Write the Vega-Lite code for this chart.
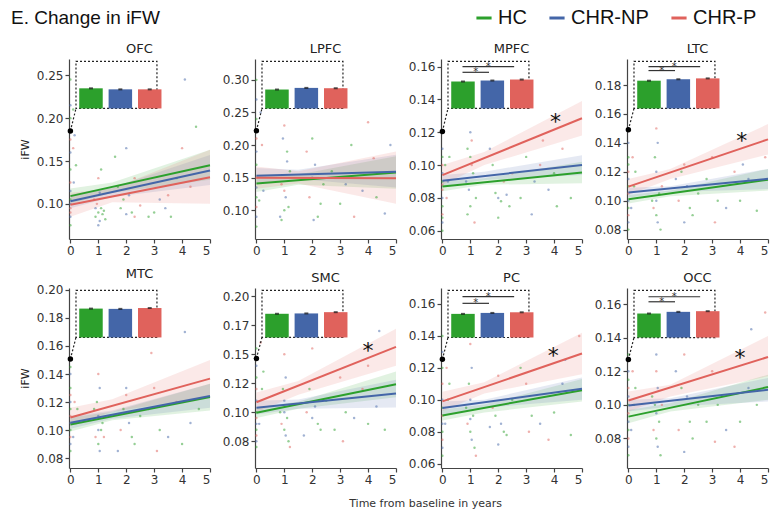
{
"$schema":"https://vega.github.io/schema/vega-lite/v6.json",
"padding":{"left":11,"top":8,"right":5,"bottom":2},
"title":{"text":"E. Change in iFW","anchor":"start","frame":"group","dx":-58,"font":"Liberation Sans","fontSize":19,"fontWeight":"normal","color":"#111","offset":-20},
"datasets":{
"fit":[
{"r":"OFC","g":"HC","t":0,"v":0.109},{"r":"OFC","g":"HC","t":5,"v":0.145},{"r":"OFC","g":"CHR-NP","t":0,"v":0.103},{"r":"OFC","g":"CHR-NP","t":5,"v":0.139},{"r":"OFC","g":"CHR-P","t":0,"v":0.099},{"r":"OFC","g":"CHR-P","t":5,"v":0.131},
{"r":"LPFC","g":"HC","t":0,"v":0.141},{"r":"LPFC","g":"HC","t":5,"v":0.158},{"r":"LPFC","g":"CHR-NP","t":0,"v":0.153},{"r":"LPFC","g":"CHR-NP","t":5,"v":0.159},{"r":"LPFC","g":"CHR-P","t":0,"v":0.150},{"r":"LPFC","g":"CHR-P","t":5,"v":0.149},
{"r":"MPFC","g":"HC","t":0,"v":0.087},{"r":"MPFC","g":"HC","t":5,"v":0.0955},{"r":"MPFC","g":"CHR-NP","t":0,"v":0.0905},{"r":"MPFC","g":"CHR-NP","t":5,"v":0.100},{"r":"MPFC","g":"CHR-P","t":0,"v":0.0939},{"r":"MPFC","g":"CHR-P","t":5,"v":0.1285},
{"r":"LTC","g":"HC","t":0,"v":0.101},{"r":"LTC","g":"HC","t":5,"v":0.1145},{"r":"LTC","g":"CHR-NP","t":0,"v":0.1057},{"r":"LTC","g":"CHR-NP","t":5,"v":0.1151},{"r":"LTC","g":"CHR-P","t":0,"v":0.1097},{"r":"LTC","g":"CHR-P","t":5,"v":0.1424},
{"r":"MTC","g":"HC","t":0,"v":0.104},{"r":"MTC","g":"HC","t":5,"v":0.1236},{"r":"MTC","g":"CHR-NP","t":0,"v":0.1052},{"r":"MTC","g":"CHR-NP","t":5,"v":0.1243},{"r":"MTC","g":"CHR-P","t":0,"v":0.109},{"r":"MTC","g":"CHR-P","t":5,"v":0.1367},
{"r":"SMC","g":"HC","t":0,"v":0.0995},{"r":"SMC","g":"HC","t":5,"v":0.1241},{"r":"SMC","g":"CHR-NP","t":0,"v":0.1038},{"r":"SMC","g":"CHR-NP","t":5,"v":0.1161},{"r":"SMC","g":"CHR-P","t":0,"v":0.1086},{"r":"SMC","g":"CHR-P","t":5,"v":0.1563},
{"r":"PC","g":"HC","t":0,"v":0.0902},{"r":"PC","g":"HC","t":5,"v":0.106},{"r":"PC","g":"CHR-NP","t":0,"v":0.0948},{"r":"PC","g":"CHR-NP","t":5,"v":0.1069},{"r":"PC","g":"CHR-P","t":0,"v":0.099},{"r":"PC","g":"CHR-P","t":5,"v":0.129},
{"r":"OCC","g":"HC","t":0,"v":0.093},{"r":"OCC","g":"HC","t":5,"v":0.1106},{"r":"OCC","g":"CHR-NP","t":0,"v":0.0996},{"r":"OCC","g":"CHR-NP","t":5,"v":0.109},{"r":"OCC","g":"CHR-P","t":0,"v":0.1026},{"r":"OCC","g":"CHR-P","t":5,"v":0.1285}
],
"band":[
{"r":"OFC","g":"HC","t":0,"lo":0.100,"hi":0.118},{"r":"OFC","g":"HC","t":1.5,"lo":0.113,"hi":0.125},{"r":"OFC","g":"HC","t":5,"lo":0.128,"hi":0.163},
{"r":"OFC","g":"CHR-NP","t":0,"lo":0.095,"hi":0.111},{"r":"OFC","g":"CHR-NP","t":1.5,"lo":0.108,"hi":0.119},{"r":"OFC","g":"CHR-NP","t":5,"lo":0.122,"hi":0.157},
{"r":"OFC","g":"CHR-P","t":0,"lo":0.085,"hi":0.113},{"r":"OFC","g":"CHR-P","t":1.5,"lo":0.102,"hi":0.118},{"r":"OFC","g":"CHR-P","t":5,"lo":0.100,"hi":0.163},
{"r":"LPFC","g":"HC","t":0,"lo":0.128,"hi":0.155},{"r":"LPFC","g":"HC","t":1.5,"lo":0.139,"hi":0.155},{"r":"LPFC","g":"HC","t":5,"lo":0.133,"hi":0.183},
{"r":"LPFC","g":"CHR-NP","t":0,"lo":0.142,"hi":0.165},{"r":"LPFC","g":"CHR-NP","t":1.5,"lo":0.148,"hi":0.162},{"r":"LPFC","g":"CHR-NP","t":5,"lo":0.135,"hi":0.185},
{"r":"LPFC","g":"CHR-P","t":0,"lo":0.133,"hi":0.167},{"r":"LPFC","g":"CHR-P","t":1.5,"lo":0.141,"hi":0.160},{"r":"LPFC","g":"CHR-P","t":5,"lo":0.110,"hi":0.190},
{"r":"MPFC","g":"HC","t":0,"lo":0.084,"hi":0.090},{"r":"MPFC","g":"HC","t":1.5,"lo":0.088,"hi":0.092},{"r":"MPFC","g":"HC","t":5,"lo":0.089,"hi":0.102},
{"r":"MPFC","g":"CHR-NP","t":0,"lo":0.087,"hi":0.094},{"r":"MPFC","g":"CHR-NP","t":1.5,"lo":0.091,"hi":0.096},{"r":"MPFC","g":"CHR-NP","t":5,"lo":0.094,"hi":0.106},
{"r":"MPFC","g":"CHR-P","t":0,"lo":0.088,"hi":0.100},{"r":"MPFC","g":"CHR-P","t":1.5,"lo":0.100,"hi":0.108},{"r":"MPFC","g":"CHR-P","t":5,"lo":0.118,"hi":0.139},
{"r":"LTC","g":"HC","t":0,"lo":0.098,"hi":0.104},{"r":"LTC","g":"HC","t":1.5,"lo":0.103,"hi":0.107},{"r":"LTC","g":"HC","t":5,"lo":0.107,"hi":0.122},
{"r":"LTC","g":"CHR-NP","t":0,"lo":0.102,"hi":0.109},{"r":"LTC","g":"CHR-NP","t":1.5,"lo":0.106,"hi":0.110},{"r":"LTC","g":"CHR-NP","t":5,"lo":0.108,"hi":0.122},
{"r":"LTC","g":"CHR-P","t":0,"lo":0.104,"hi":0.115},{"r":"LTC","g":"CHR-P","t":1.5,"lo":0.115,"hi":0.122},{"r":"LTC","g":"CHR-P","t":5,"lo":0.132,"hi":0.153},
{"r":"MTC","g":"HC","t":0,"lo":0.099,"hi":0.109},{"r":"MTC","g":"HC","t":1.5,"lo":0.107,"hi":0.113},{"r":"MTC","g":"HC","t":5,"lo":0.114,"hi":0.133},
{"r":"MTC","g":"CHR-NP","t":0,"lo":0.101,"hi":0.110},{"r":"MTC","g":"CHR-NP","t":1.5,"lo":0.108,"hi":0.114},{"r":"MTC","g":"CHR-NP","t":5,"lo":0.116,"hi":0.133},
{"r":"MTC","g":"CHR-P","t":0,"lo":0.103,"hi":0.116},{"r":"MTC","g":"CHR-P","t":1.5,"lo":0.113,"hi":0.122},{"r":"MTC","g":"CHR-P","t":5,"lo":0.124,"hi":0.150},
{"r":"SMC","g":"HC","t":0,"lo":0.095,"hi":0.104},{"r":"SMC","g":"HC","t":1.5,"lo":0.103,"hi":0.109},{"r":"SMC","g":"HC","t":5,"lo":0.113,"hi":0.135},
{"r":"SMC","g":"CHR-NP","t":0,"lo":0.098,"hi":0.110},{"r":"SMC","g":"CHR-NP","t":1.5,"lo":0.103,"hi":0.111},{"r":"SMC","g":"CHR-NP","t":5,"lo":0.104,"hi":0.128},
{"r":"SMC","g":"CHR-P","t":0,"lo":0.100,"hi":0.117},{"r":"SMC","g":"CHR-P","t":1.5,"lo":0.115,"hi":0.127},{"r":"SMC","g":"CHR-P","t":5,"lo":0.140,"hi":0.172},
{"r":"PC","g":"HC","t":0,"lo":0.087,"hi":0.094},{"r":"PC","g":"HC","t":1.5,"lo":0.092,"hi":0.097},{"r":"PC","g":"HC","t":5,"lo":0.099,"hi":0.113},
{"r":"PC","g":"CHR-NP","t":0,"lo":0.090,"hi":0.099},{"r":"PC","g":"CHR-NP","t":1.5,"lo":0.095,"hi":0.100},{"r":"PC","g":"CHR-NP","t":5,"lo":0.100,"hi":0.114},
{"r":"PC","g":"CHR-P","t":0,"lo":0.093,"hi":0.105},{"r":"PC","g":"CHR-P","t":1.5,"lo":0.104,"hi":0.111},{"r":"PC","g":"CHR-P","t":5,"lo":0.116,"hi":0.142},
{"r":"OCC","g":"HC","t":0,"lo":0.089,"hi":0.097},{"r":"OCC","g":"HC","t":1.5,"lo":0.096,"hi":0.101},{"r":"OCC","g":"HC","t":5,"lo":0.103,"hi":0.118},
{"r":"OCC","g":"CHR-NP","t":0,"lo":0.096,"hi":0.103},{"r":"OCC","g":"CHR-NP","t":1.5,"lo":0.099,"hi":0.104},{"r":"OCC","g":"CHR-NP","t":5,"lo":0.102,"hi":0.116},
{"r":"OCC","g":"CHR-P","t":0,"lo":0.096,"hi":0.108},{"r":"OCC","g":"CHR-P","t":1.5,"lo":0.105,"hi":0.112},{"r":"OCC","g":"CHR-P","t":5,"lo":0.117,"hi":0.141}
],
"bars":[
{"r":"OFC","g":"HC","v":0.2348},{"r":"OFC","g":"CHR-NP","v":0.2336},{"r":"OFC","g":"CHR-P","v":0.2336},
{"r":"LPFC","g":"HC","v":0.2852},{"r":"LPFC","g":"CHR-NP","v":0.2877},{"r":"LPFC","g":"CHR-P","v":0.2872},
{"r":"MPFC","g":"HC","v":0.1509},{"r":"MPFC","g":"CHR-NP","v":0.1515},{"r":"MPFC","g":"CHR-P","v":0.1521},
{"r":"LTC","g":"HC","v":0.183},{"r":"LTC","g":"CHR-NP","v":0.184},{"r":"LTC","g":"CHR-P","v":0.1846},
{"r":"MTC","g":"HC","v":0.1867},{"r":"MTC","g":"CHR-NP","v":0.1865},{"r":"MTC","g":"CHR-P","v":0.1871},
{"r":"SMC","g":"HC","v":0.1848},{"r":"SMC","g":"CHR-NP","v":0.1851},{"r":"SMC","g":"CHR-P","v":0.1862},
{"r":"PC","g":"HC","v":0.1538},{"r":"PC","g":"CHR-NP","v":0.1544},{"r":"PC","g":"CHR-P","v":0.1548},
{"r":"OCC","g":"HC","v":0.1544},{"r":"OCC","g":"CHR-NP","v":0.1554},{"r":"OCC","g":"CHR-P","v":0.1558}
],
"pts":[
{"r":"OFC","g":"HC","t":0,"v":0.075},{"r":"OFC","g":"CHR-NP","t":0,"v":0.085},{"r":"OFC","g":"CHR-P","t":0,"v":0.095},{"r":"OFC","g":"HC","t":0,"v":0.105},{"r":"OFC","g":"CHR-NP","t":0,"v":0.115},{"r":"OFC","g":"CHR-P","t":0,"v":0.125},{"r":"OFC","g":"HC","t":0,"v":0.14},{"r":"OFC","g":"CHR-NP","t":0,"v":0.16},{"r":"OFC","g":"CHR-P","t":0,"v":0.175},{"r":"OFC","g":"HC","t":0,"v":0.2},{"r":"OFC","g":"CHR-NP","t":0,"v":0.215},{"r":"OFC","g":"HC","t":0,"v":0.245},{"r":"OFC","g":"CHR-P","t":0,"v":0.09},{"r":"OFC","g":"CHR-NP","t":0,"v":0.1},
{"r":"OFC","g":"HC","t":0.1,"v":0.21},{"r":"OFC","g":"CHR-NP","t":0.15,"v":0.18},{"r":"OFC","g":"CHR-P","t":0.1,"v":0.165},{"r":"OFC","g":"HC","t":0.2,"v":0.145},{"r":"OFC","g":"CHR-NP","t":0.12,"v":0.125},
{"r":"OFC","g":"HC","t":0.9,"v":0.085},{"r":"OFC","g":"HC","t":1.0,"v":0.09},{"r":"OFC","g":"CHR-NP","t":1.05,"v":0.08},{"r":"OFC","g":"HC","t":1.1,"v":0.095},{"r":"OFC","g":"CHR-P","t":0.95,"v":0.1},{"r":"OFC","g":"HC","t":1.15,"v":0.088},{"r":"OFC","g":"CHR-NP","t":1.0,"v":0.075},{"r":"OFC","g":"HC","t":1.2,"v":0.092},{"r":"OFC","g":"CHR-P","t":0.85,"v":0.105},{"r":"OFC","g":"CHR-NP","t":1.05,"v":0.113},{"r":"OFC","g":"HC","t":1.1,"v":0.14},{"r":"OFC","g":"CHR-P","t":1.0,"v":0.13},{"r":"OFC","g":"HC","t":1.25,"v":0.082},{"r":"OFC","g":"CHR-NP","t":0.9,"v":0.095},
{"r":"OFC","g":"HC","t":1.8,"v":0.095},{"r":"OFC","g":"CHR-NP","t":2.0,"v":0.088},{"r":"OFC","g":"HC","t":2.2,"v":0.09},{"r":"OFC","g":"CHR-P","t":2.3,"v":0.085},{"r":"OFC","g":"HC","t":1.9,"v":0.105},{"r":"OFC","g":"CHR-NP","t":2.1,"v":0.11},{"r":"OFC","g":"CHR-P","t":2.5,"v":0.098},{"r":"OFC","g":"HC","t":1.7,"v":0.12},{"r":"OFC","g":"CHR-NP","t":2.0,"v":0.165},{"r":"OFC","g":"HC","t":1.6,"v":0.155},{"r":"OFC","g":"CHR-P","t":2.3,"v":0.13},
{"r":"OFC","g":"HC","t":3.0,"v":0.09},{"r":"OFC","g":"CHR-NP","t":3.2,"v":0.105},{"r":"OFC","g":"CHR-P","t":3.5,"v":0.11},{"r":"OFC","g":"HC","t":2.8,"v":0.085},{"r":"OFC","g":"CHR-NP","t":3.4,"v":0.095},{"r":"OFC","g":"HC","t":3.8,"v":0.13},{"r":"OFC","g":"CHR-P","t":4.0,"v":0.165},{"r":"OFC","g":"CHR-NP","t":4.1,"v":0.245},{"r":"OFC","g":"HC","t":4.5,"v":0.19},{"r":"OFC","g":"CHR-P","t":4.3,"v":0.12},{"r":"OFC","g":"HC","t":3.6,"v":0.085},
{"r":"LPFC","g":"HC","t":0,"v":0.075},{"r":"LPFC","g":"CHR-NP","t":0,"v":0.09},{"r":"LPFC","g":"CHR-P","t":0,"v":0.105},{"r":"LPFC","g":"HC","t":0,"v":0.12},{"r":"LPFC","g":"CHR-NP","t":0,"v":0.135},{"r":"LPFC","g":"CHR-P","t":0,"v":0.15},{"r":"LPFC","g":"HC","t":0,"v":0.17},{"r":"LPFC","g":"CHR-NP","t":0,"v":0.19},{"r":"LPFC","g":"CHR-P","t":0,"v":0.21},{"r":"LPFC","g":"HC","t":0,"v":0.24},{"r":"LPFC","g":"CHR-NP","t":0,"v":0.27},{"r":"LPFC","g":"HC","t":0,"v":0.3},
{"r":"LPFC","g":"CHR-NP","t":0.15,"v":0.25},{"r":"LPFC","g":"CHR-P","t":0.2,"v":0.2},{"r":"LPFC","g":"HC","t":0.1,"v":0.115},{"r":"LPFC","g":"CHR-NP","t":0.25,"v":0.13},
{"r":"LPFC","g":"HC","t":1.0,"v":0.1},{"r":"LPFC","g":"CHR-NP","t":1.05,"v":0.12},{"r":"LPFC","g":"CHR-P","t":0.9,"v":0.14},{"r":"LPFC","g":"HC","t":1.1,"v":0.19},{"r":"LPFC","g":"CHR-NP","t":0.95,"v":0.21},{"r":"LPFC","g":"CHR-P","t":1.0,"v":0.23},{"r":"LPFC","g":"HC","t":1.2,"v":0.16},{"r":"LPFC","g":"CHR-NP","t":0.85,"v":0.09},{"r":"LPFC","g":"HC","t":1.15,"v":0.105},{"r":"LPFC","g":"CHR-P","t":1.0,"v":0.13},{"r":"LPFC","g":"CHR-NP","t":1.1,"v":0.175},{"r":"LPFC","g":"HC","t":0.9,"v":0.085},
{"r":"LPFC","g":"HC","t":2.0,"v":0.21},{"r":"LPFC","g":"CHR-NP","t":2.1,"v":0.17},{"r":"LPFC","g":"CHR-P","t":1.9,"v":0.12},{"r":"LPFC","g":"HC","t":2.2,"v":0.09},{"r":"LPFC","g":"CHR-NP","t":2.0,"v":0.15},{"r":"LPFC","g":"HC","t":2.3,"v":0.11},{"r":"LPFC","g":"CHR-P","t":1.8,"v":0.19},{"r":"LPFC","g":"HC","t":2.4,"v":0.14},{"r":"LPFC","g":"CHR-NP","t":2.05,"v":0.085},
{"r":"LPFC","g":"HC","t":3.0,"v":0.11},{"r":"LPFC","g":"CHR-NP","t":3.2,"v":0.14},{"r":"LPFC","g":"CHR-P","t":3.5,"v":0.09},{"r":"LPFC","g":"HC","t":2.7,"v":0.16},{"r":"LPFC","g":"CHR-NP","t":3.8,"v":0.13},{"r":"LPFC","g":"CHR-P","t":4.0,"v":0.235},{"r":"LPFC","g":"HC","t":4.3,"v":0.12},{"r":"LPFC","g":"CHR-NP","t":4.6,"v":0.095},{"r":"LPFC","g":"CHR-P","t":4.2,"v":0.18},{"r":"LPFC","g":"HC","t":3.4,"v":0.2},{"r":"LPFC","g":"CHR-NP","t":4.8,"v":0.2},
{"r":"MPFC","g":"HC","t":0,"v":0.06},{"r":"MPFC","g":"CHR-NP","t":0,"v":0.065},{"r":"MPFC","g":"CHR-P","t":0,"v":0.07},{"r":"MPFC","g":"HC","t":0,"v":0.075},{"r":"MPFC","g":"CHR-NP","t":0,"v":0.08},{"r":"MPFC","g":"CHR-P","t":0,"v":0.085},{"r":"MPFC","g":"HC","t":0,"v":0.09},{"r":"MPFC","g":"CHR-NP","t":0,"v":0.095},{"r":"MPFC","g":"CHR-P","t":0,"v":0.1},{"r":"MPFC","g":"HC","t":0,"v":0.105},{"r":"MPFC","g":"CHR-NP","t":0,"v":0.11},{"r":"MPFC","g":"HC","t":0,"v":0.068},{"r":"MPFC","g":"CHR-P","t":0,"v":0.088},
{"r":"MPFC","g":"HC","t":0.1,"v":0.1},{"r":"MPFC","g":"CHR-NP","t":0.2,"v":0.09},{"r":"MPFC","g":"CHR-P","t":0.15,"v":0.08},{"r":"MPFC","g":"HC","t":0.25,"v":0.105},
{"r":"MPFC","g":"HC","t":0.9,"v":0.11},{"r":"MPFC","g":"CHR-NP","t":1.0,"v":0.12},{"r":"MPFC","g":"CHR-P","t":1.05,"v":0.1},{"r":"MPFC","g":"HC","t":1.1,"v":0.095},{"r":"MPFC","g":"CHR-NP","t":0.95,"v":0.085},{"r":"MPFC","g":"HC","t":1.0,"v":0.075},{"r":"MPFC","g":"CHR-P","t":1.15,"v":0.065},{"r":"MPFC","g":"HC","t":1.0,"v":0.105},{"r":"MPFC","g":"CHR-NP","t":0.85,"v":0.09},{"r":"MPFC","g":"HC","t":1.2,"v":0.08},{"r":"MPFC","g":"CHR-P","t":1.05,"v":0.115},{"r":"MPFC","g":"HC","t":0.9,"v":0.07},
{"r":"MPFC","g":"HC","t":1.9,"v":0.083},{"r":"MPFC","g":"CHR-NP","t":2.0,"v":0.08},{"r":"MPFC","g":"HC","t":2.1,"v":0.078},{"r":"MPFC","g":"CHR-P","t":2.2,"v":0.09},{"r":"MPFC","g":"HC","t":1.8,"v":0.1},{"r":"MPFC","g":"CHR-NP","t":2.3,"v":0.082},{"r":"MPFC","g":"HC","t":2.0,"v":0.068},{"r":"MPFC","g":"CHR-P","t":2.5,"v":0.095},{"r":"MPFC","g":"CHR-NP","t":1.7,"v":0.11},{"r":"MPFC","g":"HC","t":2.4,"v":0.075},
{"r":"MPFC","g":"HC","t":3.0,"v":0.105},{"r":"MPFC","g":"CHR-NP","t":3.3,"v":0.09},{"r":"MPFC","g":"CHR-P","t":3.5,"v":0.1},{"r":"MPFC","g":"HC","t":2.8,"v":0.08},{"r":"MPFC","g":"CHR-NP","t":3.8,"v":0.085},{"r":"MPFC","g":"HC","t":4.0,"v":0.095},{"r":"MPFC","g":"CHR-P","t":4.3,"v":0.11},{"r":"MPFC","g":"HC","t":4.6,"v":0.08},{"r":"MPFC","g":"CHR-NP","t":3.2,"v":0.07},{"r":"MPFC","g":"HC","t":4.1,"v":0.075},{"r":"MPFC","g":"CHR-P","t":3.6,"v":0.115},
{"r":"LTC","g":"HC","t":0,"v":0.08},{"r":"LTC","g":"CHR-NP","t":0,"v":0.085},{"r":"LTC","g":"CHR-P","t":0,"v":0.09},{"r":"LTC","g":"HC","t":0,"v":0.095},{"r":"LTC","g":"CHR-NP","t":0,"v":0.1},{"r":"LTC","g":"CHR-P","t":0,"v":0.105},{"r":"LTC","g":"HC","t":0,"v":0.11},{"r":"LTC","g":"CHR-NP","t":0,"v":0.115},{"r":"LTC","g":"CHR-P","t":0,"v":0.12},{"r":"LTC","g":"HC","t":0,"v":0.13},{"r":"LTC","g":"CHR-NP","t":0,"v":0.14},{"r":"LTC","g":"HC","t":0,"v":0.125},
{"r":"LTC","g":"CHR-P","t":0.15,"v":0.13},{"r":"LTC","g":"HC","t":0.2,"v":0.11},{"r":"LTC","g":"CHR-NP","t":0.1,"v":0.095},{"r":"LTC","g":"HC","t":0.25,"v":0.12},
{"r":"LTC","g":"CHR-P","t":1.0,"v":0.15},{"r":"LTC","g":"CHR-NP","t":1.05,"v":0.14},{"r":"LTC","g":"HC","t":0.95,"v":0.13},{"r":"LTC","g":"CHR-NP","t":1.0,"v":0.12},{"r":"LTC","g":"HC","t":1.1,"v":0.105},{"r":"LTC","g":"CHR-P","t":0.9,"v":0.095},{"r":"LTC","g":"HC","t":1.0,"v":0.09},{"r":"LTC","g":"CHR-NP","t":1.05,"v":0.085},{"r":"LTC","g":"HC","t":1.15,"v":0.08},{"r":"LTC","g":"HC","t":0.85,"v":0.1},{"r":"LTC","g":"CHR-P","t":1.2,"v":0.11},{"r":"LTC","g":"CHR-NP","t":1.0,"v":0.1},
{"r":"LTC","g":"CHR-P","t":2.0,"v":0.125},{"r":"LTC","g":"HC","t":1.9,"v":0.12},{"r":"LTC","g":"CHR-NP","t":2.1,"v":0.11},{"r":"LTC","g":"HC","t":2.2,"v":0.095},{"r":"LTC","g":"CHR-P","t":1.8,"v":0.1},{"r":"LTC","g":"HC","t":2.3,"v":0.09},{"r":"LTC","g":"CHR-NP","t":2.0,"v":0.085},{"r":"LTC","g":"HC","t":2.5,"v":0.105},{"r":"LTC","g":"CHR-NP","t":1.7,"v":0.115},
{"r":"LTC","g":"CHR-P","t":3.0,"v":0.13},{"r":"LTC","g":"HC","t":3.2,"v":0.1},{"r":"LTC","g":"CHR-NP","t":3.5,"v":0.095},{"r":"LTC","g":"HC","t":2.8,"v":0.115},{"r":"LTC","g":"CHR-P","t":3.8,"v":0.12},{"r":"LTC","g":"HC","t":4.0,"v":0.1},{"r":"LTC","g":"CHR-NP","t":4.3,"v":0.115},{"r":"LTC","g":"HC","t":4.6,"v":0.093},{"r":"LTC","g":"CHR-P","t":3.1,"v":0.085},{"r":"LTC","g":"CHR-NP","t":4.1,"v":0.125},{"r":"LTC","g":"CHR-P","t":4.9,"v":0.13},
{"r":"MTC","g":"HC","t":0,"v":0.085},{"r":"MTC","g":"CHR-NP","t":0,"v":0.09},{"r":"MTC","g":"CHR-P","t":0,"v":0.095},{"r":"MTC","g":"HC","t":0,"v":0.1},{"r":"MTC","g":"CHR-NP","t":0,"v":0.105},{"r":"MTC","g":"CHR-P","t":0,"v":0.11},{"r":"MTC","g":"HC","t":0,"v":0.115},{"r":"MTC","g":"CHR-NP","t":0,"v":0.12},{"r":"MTC","g":"CHR-P","t":0,"v":0.125},{"r":"MTC","g":"HC","t":0,"v":0.13},{"r":"MTC","g":"CHR-NP","t":0,"v":0.14},{"r":"MTC","g":"HC","t":0,"v":0.145},
{"r":"MTC","g":"CHR-P","t":0.15,"v":0.12},{"r":"MTC","g":"HC","t":0.2,"v":0.105},{"r":"MTC","g":"CHR-NP","t":0.1,"v":0.095},{"r":"MTC","g":"HC","t":0.25,"v":0.115},
{"r":"MTC","g":"CHR-P","t":1.0,"v":0.14},{"r":"MTC","g":"CHR-NP","t":1.05,"v":0.13},{"r":"MTC","g":"HC","t":0.95,"v":0.12},{"r":"MTC","g":"CHR-NP","t":1.0,"v":0.11},{"r":"MTC","g":"HC","t":1.1,"v":0.1},{"r":"MTC","g":"CHR-P","t":0.9,"v":0.095},{"r":"MTC","g":"HC","t":1.0,"v":0.09},{"r":"MTC","g":"CHR-NP","t":1.05,"v":0.085},{"r":"MTC","g":"HC","t":1.15,"v":0.105},{"r":"MTC","g":"HC","t":0.85,"v":0.115},{"r":"MTC","g":"CHR-P","t":1.2,"v":0.095},{"r":"MTC","g":"CHR-NP","t":1.0,"v":0.1},
{"r":"MTC","g":"CHR-P","t":2.0,"v":0.125},{"r":"MTC","g":"HC","t":1.9,"v":0.115},{"r":"MTC","g":"CHR-NP","t":2.1,"v":0.105},{"r":"MTC","g":"HC","t":2.2,"v":0.095},{"r":"MTC","g":"CHR-P","t":1.8,"v":0.1},{"r":"MTC","g":"HC","t":2.3,"v":0.09},{"r":"MTC","g":"CHR-NP","t":2.0,"v":0.13},{"r":"MTC","g":"HC","t":2.5,"v":0.11},{"r":"MTC","g":"CHR-NP","t":1.7,"v":0.085},
{"r":"MTC","g":"CHR-P","t":3.0,"v":0.13},{"r":"MTC","g":"HC","t":3.2,"v":0.1},{"r":"MTC","g":"CHR-NP","t":3.5,"v":0.095},{"r":"MTC","g":"HC","t":2.8,"v":0.115},{"r":"MTC","g":"CHR-P","t":3.8,"v":0.12},{"r":"MTC","g":"HC","t":4.0,"v":0.09},{"r":"MTC","g":"CHR-NP","t":4.3,"v":0.105},{"r":"MTC","g":"HC","t":4.6,"v":0.115},{"r":"MTC","g":"CHR-P","t":3.1,"v":0.085},{"r":"MTC","g":"CHR-NP","t":4.1,"v":0.17},{"r":"MTC","g":"CHR-P","t":2.9,"v":0.155},
{"r":"SMC","g":"HC","t":0,"v":0.07},{"r":"SMC","g":"CHR-NP","t":0,"v":0.075},{"r":"SMC","g":"CHR-P","t":0,"v":0.08},{"r":"SMC","g":"HC","t":0,"v":0.085},{"r":"SMC","g":"CHR-NP","t":0,"v":0.09},{"r":"SMC","g":"CHR-P","t":0,"v":0.095},{"r":"SMC","g":"HC","t":0,"v":0.1},{"r":"SMC","g":"CHR-NP","t":0,"v":0.11},{"r":"SMC","g":"CHR-P","t":0,"v":0.12},{"r":"SMC","g":"HC","t":0,"v":0.13},{"r":"SMC","g":"CHR-NP","t":0,"v":0.14},{"r":"SMC","g":"HC","t":0,"v":0.155},
{"r":"SMC","g":"CHR-P","t":0.15,"v":0.16},{"r":"SMC","g":"HC","t":0.2,"v":0.12},{"r":"SMC","g":"CHR-NP","t":0.1,"v":0.09},{"r":"SMC","g":"HC","t":0.25,"v":0.135},
{"r":"SMC","g":"CHR-P","t":1.0,"v":0.15},{"r":"SMC","g":"CHR-NP","t":1.05,"v":0.13},{"r":"SMC","g":"HC","t":0.95,"v":0.12},{"r":"SMC","g":"CHR-NP","t":1.0,"v":0.11},{"r":"SMC","g":"HC","t":1.1,"v":0.095},{"r":"SMC","g":"CHR-P","t":0.9,"v":0.09},{"r":"SMC","g":"HC","t":1.0,"v":0.085},{"r":"SMC","g":"CHR-NP","t":1.05,"v":0.08},{"r":"SMC","g":"HC","t":1.15,"v":0.075},{"r":"SMC","g":"HC","t":0.85,"v":0.1},{"r":"SMC","g":"CHR-P","t":1.2,"v":0.07},{"r":"SMC","g":"CHR-NP","t":1.0,"v":0.1},
{"r":"SMC","g":"CHR-P","t":2.0,"v":0.155},{"r":"SMC","g":"HC","t":1.9,"v":0.12},{"r":"SMC","g":"CHR-NP","t":2.1,"v":0.105},{"r":"SMC","g":"HC","t":2.2,"v":0.09},{"r":"SMC","g":"CHR-P","t":1.8,"v":0.1},{"r":"SMC","g":"HC","t":2.3,"v":0.085},{"r":"SMC","g":"CHR-NP","t":2.0,"v":0.095},{"r":"SMC","g":"HC","t":2.5,"v":0.11},{"r":"SMC","g":"CHR-NP","t":1.7,"v":0.08},
{"r":"SMC","g":"CHR-P","t":3.0,"v":0.13},{"r":"SMC","g":"HC","t":3.2,"v":0.1},{"r":"SMC","g":"CHR-NP","t":3.5,"v":0.095},{"r":"SMC","g":"HC","t":2.8,"v":0.085},{"r":"SMC","g":"CHR-P","t":3.8,"v":0.12},{"r":"SMC","g":"HC","t":4.0,"v":0.09},{"r":"SMC","g":"CHR-NP","t":4.3,"v":0.105},{"r":"SMC","g":"HC","t":4.6,"v":0.085},{"r":"SMC","g":"CHR-P","t":3.1,"v":0.075},{"r":"SMC","g":"CHR-NP","t":4.4,"v":0.17},{"r":"SMC","g":"CHR-P","t":4.0,"v":0.14},
{"r":"PC","g":"HC","t":0,"v":0.065},{"r":"PC","g":"CHR-NP","t":0,"v":0.07},{"r":"PC","g":"CHR-P","t":0,"v":0.075},{"r":"PC","g":"HC","t":0,"v":0.08},{"r":"PC","g":"CHR-NP","t":0,"v":0.085},{"r":"PC","g":"CHR-P","t":0,"v":0.09},{"r":"PC","g":"HC","t":0,"v":0.095},{"r":"PC","g":"CHR-NP","t":0,"v":0.1},{"r":"PC","g":"CHR-P","t":0,"v":0.11},{"r":"PC","g":"HC","t":0,"v":0.12},{"r":"PC","g":"CHR-NP","t":0,"v":0.13},{"r":"PC","g":"HC","t":0,"v":0.14},
{"r":"PC","g":"CHR-P","t":0.15,"v":0.12},{"r":"PC","g":"HC","t":0.2,"v":0.1},{"r":"PC","g":"CHR-NP","t":0.1,"v":0.085},{"r":"PC","g":"HC","t":0.25,"v":0.11},
{"r":"PC","g":"CHR-P","t":1.0,"v":0.135},{"r":"PC","g":"CHR-NP","t":1.05,"v":0.12},{"r":"PC","g":"HC","t":0.95,"v":0.11},{"r":"PC","g":"CHR-NP","t":1.0,"v":0.1},{"r":"PC","g":"HC","t":1.1,"v":0.09},{"r":"PC","g":"CHR-P","t":0.9,"v":0.085},{"r":"PC","g":"HC","t":1.0,"v":0.08},{"r":"PC","g":"CHR-NP","t":1.05,"v":0.075},{"r":"PC","g":"HC","t":1.15,"v":0.07},{"r":"PC","g":"HC","t":0.85,"v":0.095},{"r":"PC","g":"CHR-P","t":1.2,"v":0.065},{"r":"PC","g":"CHR-NP","t":1.0,"v":0.088},
{"r":"PC","g":"CHR-P","t":2.0,"v":0.115},{"r":"PC","g":"HC","t":1.9,"v":0.09},{"r":"PC","g":"CHR-NP","t":2.1,"v":0.085},{"r":"PC","g":"HC","t":2.2,"v":0.08},{"r":"PC","g":"CHR-P","t":1.8,"v":0.095},{"r":"PC","g":"HC","t":2.3,"v":0.078},{"r":"PC","g":"CHR-NP","t":2.0,"v":0.072},{"r":"PC","g":"HC","t":2.5,"v":0.1},{"r":"PC","g":"CHR-NP","t":1.7,"v":0.083},
{"r":"PC","g":"CHR-P","t":3.0,"v":0.11},{"r":"PC","g":"HC","t":3.2,"v":0.09},{"r":"PC","g":"CHR-NP","t":3.5,"v":0.085},{"r":"PC","g":"HC","t":2.8,"v":0.12},{"r":"PC","g":"CHR-P","t":3.8,"v":0.075},{"r":"PC","g":"HC","t":4.0,"v":0.092},{"r":"PC","g":"CHR-NP","t":4.3,"v":0.11},{"r":"PC","g":"HC","t":4.6,"v":0.078},{"r":"PC","g":"CHR-P","t":3.1,"v":0.08},{"r":"PC","g":"CHR-NP","t":4.4,"v":0.125},{"r":"PC","g":"CHR-P","t":4.9,"v":0.14},
{"r":"OCC","g":"HC","t":0,"v":0.07},{"r":"OCC","g":"CHR-NP","t":0,"v":0.075},{"r":"OCC","g":"CHR-P","t":0,"v":0.08},{"r":"OCC","g":"HC","t":0,"v":0.085},{"r":"OCC","g":"CHR-NP","t":0,"v":0.09},{"r":"OCC","g":"CHR-P","t":0,"v":0.095},{"r":"OCC","g":"HC","t":0,"v":0.1},{"r":"OCC","g":"CHR-NP","t":0,"v":0.105},{"r":"OCC","g":"CHR-P","t":0,"v":0.11},{"r":"OCC","g":"HC","t":0,"v":0.115},{"r":"OCC","g":"CHR-NP","t":0,"v":0.12},{"r":"OCC","g":"HC","t":0,"v":0.13},
{"r":"OCC","g":"CHR-P","t":0.15,"v":0.12},{"r":"OCC","g":"HC","t":0.2,"v":0.1},{"r":"OCC","g":"CHR-NP","t":0.1,"v":0.085},{"r":"OCC","g":"HC","t":0.25,"v":0.11},
{"r":"OCC","g":"CHR-P","t":1.0,"v":0.12},{"r":"OCC","g":"CHR-NP","t":1.05,"v":0.11},{"r":"OCC","g":"HC","t":0.95,"v":0.1},{"r":"OCC","g":"CHR-NP","t":1.0,"v":0.095},{"r":"OCC","g":"HC","t":1.1,"v":0.09},{"r":"OCC","g":"CHR-P","t":0.9,"v":0.085},{"r":"OCC","g":"HC","t":1.0,"v":0.08},{"r":"OCC","g":"CHR-NP","t":1.05,"v":0.075},{"r":"OCC","g":"HC","t":1.15,"v":0.07},{"r":"OCC","g":"HC","t":0.85,"v":0.105},{"r":"OCC","g":"CHR-P","t":1.2,"v":0.1},{"r":"OCC","g":"CHR-NP","t":1.0,"v":0.13},
{"r":"OCC","g":"CHR-P","t":2.0,"v":0.13},{"r":"OCC","g":"HC","t":1.9,"v":0.11},{"r":"OCC","g":"CHR-NP","t":2.1,"v":0.105},{"r":"OCC","g":"HC","t":2.2,"v":0.09},{"r":"OCC","g":"CHR-P","t":1.8,"v":0.085},{"r":"OCC","g":"HC","t":2.3,"v":0.08},{"r":"OCC","g":"CHR-NP","t":2.0,"v":0.072},{"r":"OCC","g":"HC","t":2.5,"v":0.1},{"r":"OCC","g":"CHR-NP","t":1.7,"v":0.12},
{"r":"OCC","g":"CHR-P","t":3.0,"v":0.12},{"r":"OCC","g":"HC","t":3.2,"v":0.1},{"r":"OCC","g":"CHR-NP","t":3.5,"v":0.085},{"r":"OCC","g":"HC","t":2.8,"v":0.09},{"r":"OCC","g":"CHR-P","t":3.8,"v":0.075},{"r":"OCC","g":"HC","t":4.0,"v":0.09},{"r":"OCC","g":"CHR-NP","t":4.3,"v":0.11},{"r":"OCC","g":"HC","t":4.6,"v":0.1},{"r":"OCC","g":"CHR-P","t":3.1,"v":0.078},{"r":"OCC","g":"CHR-NP","t":4.4,"v":0.145},{"r":"OCC","g":"CHR-P","t":4.9,"v":0.155}
]
},
"spacing":11,
"vconcat":[
{"bounds":"flush","spacing":45,"hconcat":[
{"width":141,"height":180,"title":"OFC","resolve":{"scale":{"x":"independent"}},"layer":[
 {"layer":[
  {"data":{"name":"band"},"transform":[{"filter":"datum.r=='OFC'"}],"mark":{"type":"area","opacity":0.14},"encoding":{"x":{"field":"t","type":"quantitative","scale":{"domain":[-0.05,5],"nice":false,"zero":false},"axis":{"values":[0,1,2,3,4,5],"tickCount":12,"format":"d","labelOverlap":false,"title":null}},"y":{"field":"lo","type":"quantitative","title":"iFW","scale":{"domain":[0.059,0.269],"nice":false,"zero":false},"axis":{"values":[0.1,0.15,0.2,0.25],"tickCount":12,"format":".2f","labelOverlap":false,"title":"iFW"}},"y2":{"field":"hi"},"color":{"field":"g","type":"nominal","scale":{"domain":["CHR-P","CHR-NP","HC"],"range":["#e0625c","#4466a8","#2ca02c"]},"legend":null}}},
  {"data":{"name":"pts"},"transform":[{"filter":"datum.r=='OFC'"}],"mark":{"type":"circle","size":6,"opacity":0.5},"encoding":{"x":{"field":"t","type":"quantitative"},"y":{"field":"v","type":"quantitative","title":"iFW"},"color":{"field":"g","type":"nominal","legend":null}}},
  {"data":{"name":"fit"},"transform":[{"filter":"datum.r=='OFC'"}],"mark":{"type":"line","strokeWidth":2},"encoding":{"x":{"field":"t","type":"quantitative"},"y":{"field":"v","type":"quantitative","title":"iFW"},"stroke":{"field":"g","type":"nominal","title":null,"scale":{"domain":["HC","CHR-NP","CHR-P"],"range":["#2ca02c","#4466a8","#e0625c"]}}}},
  {"data":{"values":[{}]},"mark":{"type":"rect","fill":"white","stroke":"#222","strokeWidth":1.2,"strokeDash":[2,2]},"encoding":{"x":{"datum":0.2},"x2":{"datum":3.1},"y":{"datum":0.2113},"y2":{"datum":0.2663}}},
  {"data":{"values":[{}]},"mark":{"type":"rule","stroke":"#222","strokeWidth":1.2,"strokeDash":[2,2]},"encoding":{"x":{"datum":0},"x2":{"datum":0.2},"y":{"datum":0.185},"y2":{"datum":0.2113}}},
  {"data":{"values":[{}]},"mark":{"type":"circle","color":"#000","size":30,"opacity":1},"encoding":{"x":{"datum":0},"y":{"datum":0.185}}}
 ]},
 {"data":{"name":"bars"},"transform":[{"filter":"datum.r=='OFC'"}],"layer":[
  {"mark":{"type":"bar"},"encoding":{"x":{"field":"g","type":"nominal","scale":{"type":"band","domain":["HC","CHR-NP","CHR-P"],"paddingInner":0.2,"paddingOuter":1.34,"align":0.174},"axis":null},"y":{"field":"v","type":"quantitative","title":"iFW"},"y2":{"datum":0.2113},"color":{"field":"g","type":"nominal","legend":null}}},
  {"mark":{"type":"tick","color":"#111","thickness":2,"size":4},"encoding":{"x":{"field":"g","type":"nominal"},"y":{"field":"v","type":"quantitative","title":"iFW"}}}
 ]}
]},
{"width":141,"height":180,"title":"LPFC","resolve":{"scale":{"x":"independent"}},"layer":[
 {"layer":[
  {"data":{"name":"band"},"transform":[{"filter":"datum.r=='LPFC'"}],"mark":{"type":"area","opacity":0.14},"encoding":{"x":{"field":"t","type":"quantitative","scale":{"domain":[-0.05,5],"nice":false,"zero":false},"axis":{"values":[0,1,2,3,4,5],"tickCount":12,"format":"d","labelOverlap":false,"title":null}},"y":{"field":"lo","type":"quantitative","scale":{"domain":[0.056,0.332],"nice":false,"zero":false},"axis":{"values":[0.1,0.15,0.2,0.25,0.3],"tickCount":12,"format":".2f","labelOverlap":false,"title":null}},"y2":{"field":"hi"},"color":{"field":"g","type":"nominal","legend":null}}},
  {"data":{"name":"pts"},"transform":[{"filter":"datum.r=='LPFC'"}],"mark":{"type":"circle","size":6,"opacity":0.5},"encoding":{"x":{"field":"t","type":"quantitative"},"y":{"field":"v","type":"quantitative","title":null},"color":{"field":"g","type":"nominal","legend":null}}},
  {"data":{"name":"fit"},"transform":[{"filter":"datum.r=='LPFC'"}],"mark":{"type":"line","strokeWidth":2},"encoding":{"x":{"field":"t","type":"quantitative"},"y":{"field":"v","type":"quantitative","title":null},"stroke":{"field":"g","type":"nominal","title":null}}},
  {"data":{"values":[{}]},"mark":{"type":"rect","fill":"white","stroke":"#222","strokeWidth":1.2,"strokeDash":[2,2]},"encoding":{"x":{"datum":0.2},"x2":{"datum":3.1},"y":{"datum":0.2561},"y2":{"datum":0.3284}}},
  {"data":{"values":[{}]},"mark":{"type":"rule","stroke":"#222","strokeWidth":1.2,"strokeDash":[2,2]},"encoding":{"x":{"datum":0},"x2":{"datum":0.2},"y":{"datum":0.222},"y2":{"datum":0.2561}}},
  {"data":{"values":[{}]},"mark":{"type":"circle","color":"#000","size":30,"opacity":1},"encoding":{"x":{"datum":0},"y":{"datum":0.222}}}
 ]},
 {"data":{"name":"bars"},"transform":[{"filter":"datum.r=='LPFC'"}],"layer":[
  {"mark":{"type":"bar"},"encoding":{"x":{"field":"g","type":"nominal","scale":{"type":"band","domain":["HC","CHR-NP","CHR-P"],"paddingInner":0.2,"paddingOuter":1.34,"align":0.174},"axis":null},"y":{"field":"v","type":"quantitative","title":null},"y2":{"datum":0.2561},"color":{"field":"g","type":"nominal","legend":null}}},
  {"mark":{"type":"tick","color":"#111","thickness":2,"size":4},"encoding":{"x":{"field":"g","type":"nominal"},"y":{"field":"v","type":"quantitative","title":null}}}
 ]}
]},
{"width":141,"height":180,"title":"MPFC","resolve":{"scale":{"x":"independent"}},"layer":[
 {"layer":[
  {"data":{"name":"band"},"transform":[{"filter":"datum.r=='MPFC'"}],"mark":{"type":"area","opacity":0.14},"encoding":{"x":{"field":"t","type":"quantitative","scale":{"domain":[-0.05,5],"nice":false,"zero":false},"axis":{"values":[0,1,2,3,4,5],"tickCount":12,"format":"d","labelOverlap":false,"title":null}},"y":{"field":"lo","type":"quantitative","scale":{"domain":[0.055,0.1646],"nice":false,"zero":false},"axis":{"values":[0.06,0.08,0.1,0.12,0.14,0.16],"tickCount":12,"format":".2f","labelOverlap":false,"title":null}},"y2":{"field":"hi"},"color":{"field":"g","type":"nominal","legend":null}}},
  {"data":{"name":"pts"},"transform":[{"filter":"datum.r=='MPFC'"}],"mark":{"type":"circle","size":6,"opacity":0.5},"encoding":{"x":{"field":"t","type":"quantitative"},"y":{"field":"v","type":"quantitative","title":null},"color":{"field":"g","type":"nominal","legend":null}}},
  {"data":{"name":"fit"},"transform":[{"filter":"datum.r=='MPFC'"}],"mark":{"type":"line","strokeWidth":2},"encoding":{"x":{"field":"t","type":"quantitative"},"y":{"field":"v","type":"quantitative","title":null},"stroke":{"field":"g","type":"nominal","title":null}}},
  {"data":{"values":[{}]},"mark":{"type":"rect","fill":"white","stroke":"#222","strokeWidth":1.2,"strokeDash":[2,2]},"encoding":{"x":{"datum":0.2},"x2":{"datum":3.1},"y":{"datum":0.1345},"y2":{"datum":0.1632}}},
  {"data":{"values":[{}]},"mark":{"type":"rule","stroke":"#222","strokeWidth":1.2,"strokeDash":[2,2]},"encoding":{"x":{"datum":0},"x2":{"datum":0.2},"y":{"datum":0.1205},"y2":{"datum":0.1345}}},
  {"data":{"values":[{}]},"mark":{"type":"circle","color":"#000","size":30,"opacity":1},"encoding":{"x":{"datum":0},"y":{"datum":0.1205}}},
  {"data":{"values":[{}]},"mark":{"type":"rule","stroke":"#333","strokeWidth":1.2},"encoding":{"x":{"datum":0.72},"x2":{"datum":2.57},"y":{"datum":0.16}}},
  {"data":{"values":[{}]},"mark":{"type":"rule","stroke":"#333","strokeWidth":1.2},"encoding":{"x":{"datum":0.72},"x2":{"datum":1.67},"y":{"datum":0.1565}}},
  {"data":{"values":[{}]},"mark":{"type":"text","text":"*","fontSize":10,"font":"DejaVu Sans","baseline":"middle","color":"#333"},"encoding":{"x":{"datum":1.645},"y":{"datum":0.16}}},
  {"data":{"values":[{}]},"mark":{"type":"text","text":"*","fontSize":10,"font":"DejaVu Sans","baseline":"middle","color":"#333"},"encoding":{"x":{"datum":1.195},"y":{"datum":0.1565}}},
  {"data":{"values":[{}]},"mark":{"type":"text","text":"*","fontSize":22,"font":"DejaVu Sans","baseline":"middle","dy":5,"color":"#111"},"encoding":{"x":{"datum":4.05},"y":{"datum":0.129}}}
 ]},
 {"data":{"name":"bars"},"transform":[{"filter":"datum.r=='MPFC'"}],"layer":[
  {"mark":{"type":"bar"},"encoding":{"x":{"field":"g","type":"nominal","scale":{"type":"band","domain":["HC","CHR-NP","CHR-P"],"paddingInner":0.2,"paddingOuter":1.34,"align":0.174},"axis":null},"y":{"field":"v","type":"quantitative","title":null},"y2":{"datum":0.1345},"color":{"field":"g","type":"nominal","legend":null}}},
  {"mark":{"type":"tick","color":"#111","thickness":2,"size":4},"encoding":{"x":{"field":"g","type":"nominal"},"y":{"field":"v","type":"quantitative","title":null}}}
 ]}
]},
{"width":141,"height":180,"title":"LTC","resolve":{"scale":{"x":"independent"}},"layer":[
 {"layer":[
  {"data":{"name":"band"},"transform":[{"filter":"datum.r=='LTC'"}],"mark":{"type":"area","opacity":0.14},"encoding":{"x":{"field":"t","type":"quantitative","scale":{"domain":[-0.05,5],"nice":false,"zero":false},"axis":{"values":[0,1,2,3,4,5],"tickCount":12,"format":"d","labelOverlap":false,"title":null}},"y":{"field":"lo","type":"quantitative","scale":{"domain":[0.0735,0.198],"nice":false,"zero":false},"axis":{"values":[0.08,0.1,0.12,0.14,0.16,0.18],"tickCount":12,"format":".2f","labelOverlap":false,"title":null}},"y2":{"field":"hi"},"color":{"field":"g","type":"nominal","legend":null}}},
  {"data":{"name":"pts"},"transform":[{"filter":"datum.r=='LTC'"}],"mark":{"type":"circle","size":6,"opacity":0.5},"encoding":{"x":{"field":"t","type":"quantitative"},"y":{"field":"v","type":"quantitative","title":null},"color":{"field":"g","type":"nominal","legend":null}}},
  {"data":{"name":"fit"},"transform":[{"filter":"datum.r=='LTC'"}],"mark":{"type":"line","strokeWidth":2},"encoding":{"x":{"field":"t","type":"quantitative"},"y":{"field":"v","type":"quantitative","title":null},"stroke":{"field":"g","type":"nominal","title":null}}},
  {"data":{"values":[{}]},"mark":{"type":"rect","fill":"white","stroke":"#222","strokeWidth":1.2,"strokeDash":[2,2]},"encoding":{"x":{"datum":0.2},"x2":{"datum":3.1},"y":{"datum":0.1638},"y2":{"datum":0.1964}}},
  {"data":{"values":[{}]},"mark":{"type":"rule","stroke":"#222","strokeWidth":1.2,"strokeDash":[2,2]},"encoding":{"x":{"datum":0},"x2":{"datum":0.2},"y":{"datum":0.149},"y2":{"datum":0.1638}}},
  {"data":{"values":[{}]},"mark":{"type":"circle","color":"#000","size":30,"opacity":1},"encoding":{"x":{"datum":0},"y":{"datum":0.149}}},
  {"data":{"values":[{}]},"mark":{"type":"rule","stroke":"#333","strokeWidth":1.2},"encoding":{"x":{"datum":0.72},"x2":{"datum":2.57},"y":{"datum":0.1927}}},
  {"data":{"values":[{}]},"mark":{"type":"rule","stroke":"#333","strokeWidth":1.2},"encoding":{"x":{"datum":0.72},"x2":{"datum":1.67},"y":{"datum":0.19}}},
  {"data":{"values":[{}]},"mark":{"type":"text","text":"*","fontSize":10,"font":"DejaVu Sans","baseline":"middle","color":"#333"},"encoding":{"x":{"datum":1.645},"y":{"datum":0.1927}}},
  {"data":{"values":[{}]},"mark":{"type":"text","text":"*","fontSize":10,"font":"DejaVu Sans","baseline":"middle","color":"#333"},"encoding":{"x":{"datum":1.195},"y":{"datum":0.19}}},
  {"data":{"values":[{}]},"mark":{"type":"text","text":"*","fontSize":22,"font":"DejaVu Sans","baseline":"middle","dy":5,"color":"#111"},"encoding":{"x":{"datum":4.06},"y":{"datum":0.1444}}}
 ]},
 {"data":{"name":"bars"},"transform":[{"filter":"datum.r=='LTC'"}],"layer":[
  {"mark":{"type":"bar"},"encoding":{"x":{"field":"g","type":"nominal","scale":{"type":"band","domain":["HC","CHR-NP","CHR-P"],"paddingInner":0.2,"paddingOuter":1.34,"align":0.174},"axis":null},"y":{"field":"v","type":"quantitative","title":null},"y2":{"datum":0.1638},"color":{"field":"g","type":"nominal","legend":null}}},
  {"mark":{"type":"tick","color":"#111","thickness":2,"size":4},"encoding":{"x":{"field":"g","type":"nominal"},"y":{"field":"v","type":"quantitative","title":null}}}
 ]}
]}
]},
{"bounds":"flush","spacing":45,"title":{"text":"Time from baseline in years","orient":"bottom","anchor":"middle","frame":"bounds","dx":30,"fontSize":11,"font":"DejaVu Sans","fontWeight":"normal","color":"#333","offset":13},"hconcat":[
{"width":141,"height":180,"title":"MTC","resolve":{"scale":{"x":"independent"}},"layer":[
 {"layer":[
  {"data":{"name":"band"},"transform":[{"filter":"datum.r=='MTC'"}],"mark":{"type":"area","opacity":0.14},"encoding":{"x":{"field":"t","type":"quantitative","scale":{"domain":[-0.05,5],"nice":false,"zero":false},"axis":{"values":[0,1,2,3,4,5],"tickCount":12,"format":"d","labelOverlap":false,"title":null}},"y":{"field":"lo","type":"quantitative","title":"iFW","scale":{"domain":[0.0729,0.2014],"nice":false,"zero":false},"axis":{"values":[0.08,0.1,0.12,0.14,0.16,0.18,0.2],"tickCount":12,"format":".2f","labelOverlap":false,"title":"iFW"}},"y2":{"field":"hi"},"color":{"field":"g","type":"nominal","legend":null}}},
  {"data":{"name":"pts"},"transform":[{"filter":"datum.r=='MTC'"}],"mark":{"type":"circle","size":6,"opacity":0.5},"encoding":{"x":{"field":"t","type":"quantitative"},"y":{"field":"v","type":"quantitative","title":"iFW"},"color":{"field":"g","type":"nominal","legend":null}}},
  {"data":{"name":"fit"},"transform":[{"filter":"datum.r=='MTC'"}],"mark":{"type":"line","strokeWidth":2},"encoding":{"x":{"field":"t","type":"quantitative"},"y":{"field":"v","type":"quantitative","title":"iFW"},"stroke":{"field":"g","type":"nominal","title":null}}},
  {"data":{"values":[{}]},"mark":{"type":"rect","fill":"white","stroke":"#222","strokeWidth":1.2,"strokeDash":[2,2]},"encoding":{"x":{"datum":0.2},"x2":{"datum":3.1},"y":{"datum":0.1661},"y2":{"datum":0.1997}}},
  {"data":{"values":[{}]},"mark":{"type":"rule","stroke":"#222","strokeWidth":1.2,"strokeDash":[2,2]},"encoding":{"x":{"datum":0},"x2":{"datum":0.2},"y":{"datum":0.1507},"y2":{"datum":0.1661}}},
  {"data":{"values":[{}]},"mark":{"type":"circle","color":"#000","size":30,"opacity":1},"encoding":{"x":{"datum":0},"y":{"datum":0.1507}}}
 ]},
 {"data":{"name":"bars"},"transform":[{"filter":"datum.r=='MTC'"}],"layer":[
  {"mark":{"type":"bar"},"encoding":{"x":{"field":"g","type":"nominal","scale":{"type":"band","domain":["HC","CHR-NP","CHR-P"],"paddingInner":0.2,"paddingOuter":1.34,"align":0.174},"axis":null},"y":{"field":"v","type":"quantitative","title":"iFW"},"y2":{"datum":0.1661},"color":{"field":"g","type":"nominal","legend":null}}},
  {"mark":{"type":"tick","color":"#111","thickness":2,"size":4},"encoding":{"x":{"field":"g","type":"nominal"},"y":{"field":"v","type":"quantitative","title":"iFW"}}}
 ]}
]},
{"width":141,"height":180,"title":"SMC","resolve":{"scale":{"x":"independent"}},"layer":[
 {"layer":[
  {"data":{"name":"band"},"transform":[{"filter":"datum.r=='SMC'"}],"mark":{"type":"area","opacity":0.14},"encoding":{"x":{"field":"t","type":"quantitative","scale":{"domain":[-0.05,5],"nice":false,"zero":false},"axis":{"values":[0,1,2,3,4,5],"tickCount":12,"format":"d","labelOverlap":false,"title":null}},"y":{"field":"lo","type":"quantitative","scale":{"domain":[0.052,0.207],"nice":false,"zero":false},"axis":{"values":[0.075,0.1,0.125,0.15,0.175,0.2],"tickCount":12,"labelOverlap":false,"labelExpr":"datum.value < 0.08 ? '0.08' : (datum.value > 0.12 && datum.value < 0.13) ? '0.12' : (datum.value > 0.17 && datum.value < 0.18) ? '0.17' : format(datum.value, '.2f')","title":null}},"y2":{"field":"hi"},"color":{"field":"g","type":"nominal","legend":null}}},
  {"data":{"name":"pts"},"transform":[{"filter":"datum.r=='SMC'"}],"mark":{"type":"circle","size":6,"opacity":0.5},"encoding":{"x":{"field":"t","type":"quantitative"},"y":{"field":"v","type":"quantitative","title":null},"color":{"field":"g","type":"nominal","legend":null}}},
  {"data":{"name":"fit"},"transform":[{"filter":"datum.r=='SMC'"}],"mark":{"type":"line","strokeWidth":2},"encoding":{"x":{"field":"t","type":"quantitative"},"y":{"field":"v","type":"quantitative","title":null},"stroke":{"field":"g","type":"nominal","title":null}}},
  {"data":{"values":[{}]},"mark":{"type":"rect","fill":"white","stroke":"#222","strokeWidth":1.2,"strokeDash":[2,2]},"encoding":{"x":{"datum":0.2},"x2":{"datum":3.1},"y":{"datum":0.1644},"y2":{"datum":0.205}}},
  {"data":{"values":[{}]},"mark":{"type":"rule","stroke":"#222","strokeWidth":1.2,"strokeDash":[2,2]},"encoding":{"x":{"datum":0},"x2":{"datum":0.2},"y":{"datum":0.1463},"y2":{"datum":0.1644}}},
  {"data":{"values":[{}]},"mark":{"type":"circle","color":"#000","size":30,"opacity":1},"encoding":{"x":{"datum":0},"y":{"datum":0.1463}}},
  {"data":{"values":[{}]},"mark":{"type":"text","text":"*","fontSize":22,"font":"DejaVu Sans","baseline":"middle","dy":5,"color":"#111"},"encoding":{"x":{"datum":4.0},"y":{"datum":0.157}}}
 ]},
 {"data":{"name":"bars"},"transform":[{"filter":"datum.r=='SMC'"}],"layer":[
  {"mark":{"type":"bar"},"encoding":{"x":{"field":"g","type":"nominal","scale":{"type":"band","domain":["HC","CHR-NP","CHR-P"],"paddingInner":0.2,"paddingOuter":1.34,"align":0.174},"axis":null},"y":{"field":"v","type":"quantitative","title":null},"y2":{"datum":0.1644},"color":{"field":"g","type":"nominal","legend":null}}},
  {"mark":{"type":"tick","color":"#111","thickness":2,"size":4},"encoding":{"x":{"field":"g","type":"nominal"},"y":{"field":"v","type":"quantitative","title":null}}}
 ]}
]},
{"width":141,"height":180,"title":"PC","resolve":{"scale":{"x":"independent"}},"layer":[
 {"layer":[
  {"data":{"name":"band"},"transform":[{"filter":"datum.r=='PC'"}],"mark":{"type":"area","opacity":0.14},"encoding":{"x":{"field":"t","type":"quantitative","scale":{"domain":[-0.05,5],"nice":false,"zero":false},"axis":{"values":[0,1,2,3,4,5],"tickCount":12,"format":"d","labelOverlap":false,"title":null}},"y":{"field":"lo","type":"quantitative","scale":{"domain":[0.0573,0.17],"nice":false,"zero":false},"axis":{"values":[0.06,0.08,0.1,0.12,0.14,0.16],"tickCount":12,"format":".2f","labelOverlap":false,"title":null}},"y2":{"field":"hi"},"color":{"field":"g","type":"nominal","legend":null}}},
  {"data":{"name":"pts"},"transform":[{"filter":"datum.r=='PC'"}],"mark":{"type":"circle","size":6,"opacity":0.5},"encoding":{"x":{"field":"t","type":"quantitative"},"y":{"field":"v","type":"quantitative","title":null},"color":{"field":"g","type":"nominal","legend":null}}},
  {"data":{"name":"fit"},"transform":[{"filter":"datum.r=='PC'"}],"mark":{"type":"line","strokeWidth":2},"encoding":{"x":{"field":"t","type":"quantitative"},"y":{"field":"v","type":"quantitative","title":null},"stroke":{"field":"g","type":"nominal","title":null}}},
  {"data":{"values":[{}]},"mark":{"type":"rect","fill":"white","stroke":"#222","strokeWidth":1.2,"strokeDash":[2,2]},"encoding":{"x":{"datum":0.2},"x2":{"datum":3.1},"y":{"datum":0.139},"y2":{"datum":0.1685}}},
  {"data":{"values":[{}]},"mark":{"type":"rule","stroke":"#222","strokeWidth":1.2,"strokeDash":[2,2]},"encoding":{"x":{"datum":0},"x2":{"datum":0.2},"y":{"datum":0.1254},"y2":{"datum":0.139}}},
  {"data":{"values":[{}]},"mark":{"type":"circle","color":"#000","size":30,"opacity":1},"encoding":{"x":{"datum":0},"y":{"datum":0.1254}}},
  {"data":{"values":[{}]},"mark":{"type":"rule","stroke":"#333","strokeWidth":1.2},"encoding":{"x":{"datum":0.72},"x2":{"datum":2.57},"y":{"datum":0.1646}}},
  {"data":{"values":[{}]},"mark":{"type":"rule","stroke":"#333","strokeWidth":1.2},"encoding":{"x":{"datum":0.72},"x2":{"datum":1.67},"y":{"datum":0.1604}}},
  {"data":{"values":[{}]},"mark":{"type":"text","text":"*","fontSize":10,"font":"DejaVu Sans","baseline":"middle","color":"#333"},"encoding":{"x":{"datum":1.645},"y":{"datum":0.1646}}},
  {"data":{"values":[{}]},"mark":{"type":"text","text":"*","fontSize":10,"font":"DejaVu Sans","baseline":"middle","color":"#333"},"encoding":{"x":{"datum":1.195},"y":{"datum":0.1604}}},
  {"data":{"values":[{}]},"mark":{"type":"text","text":"*","fontSize":22,"font":"DejaVu Sans","baseline":"middle","dy":5,"color":"#111"},"encoding":{"x":{"datum":3.97},"y":{"datum":0.1304}}}
 ]},
 {"data":{"name":"bars"},"transform":[{"filter":"datum.r=='PC'"}],"layer":[
  {"mark":{"type":"bar"},"encoding":{"x":{"field":"g","type":"nominal","scale":{"type":"band","domain":["HC","CHR-NP","CHR-P"],"paddingInner":0.2,"paddingOuter":1.34,"align":0.174},"axis":null},"y":{"field":"v","type":"quantitative","title":null},"y2":{"datum":0.139},"color":{"field":"g","type":"nominal","legend":null}}},
  {"mark":{"type":"tick","color":"#111","thickness":2,"size":4},"encoding":{"x":{"field":"g","type":"nominal"},"y":{"field":"v","type":"quantitative","title":null}}}
 ]}
]},
{"width":141,"height":180,"title":"OCC","resolve":{"scale":{"x":"independent"}},"layer":[
 {"layer":[
  {"data":{"name":"band"},"transform":[{"filter":"datum.r=='OCC'"}],"mark":{"type":"area","opacity":0.14},"encoding":{"x":{"field":"t","type":"quantitative","scale":{"domain":[-0.05,5],"nice":false,"zero":false},"axis":{"values":[0,1,2,3,4,5],"tickCount":12,"format":"d","labelOverlap":false,"title":null}},"y":{"field":"lo","type":"quantitative","scale":{"domain":[0.0624,0.1696],"nice":false,"zero":false},"axis":{"values":[0.08,0.1,0.12,0.14,0.16],"tickCount":12,"format":".2f","labelOverlap":false,"title":null}},"y2":{"field":"hi"},"color":{"field":"g","type":"nominal","legend":null}}},
  {"data":{"name":"pts"},"transform":[{"filter":"datum.r=='OCC'"}],"mark":{"type":"circle","size":6,"opacity":0.5},"encoding":{"x":{"field":"t","type":"quantitative"},"y":{"field":"v","type":"quantitative","title":null},"color":{"field":"g","type":"nominal","legend":null}}},
  {"data":{"name":"fit"},"transform":[{"filter":"datum.r=='OCC'"}],"mark":{"type":"line","strokeWidth":2},"encoding":{"x":{"field":"t","type":"quantitative"},"y":{"field":"v","type":"quantitative","title":null},"stroke":{"field":"g","type":"nominal","title":null}}},
  {"data":{"values":[{}]},"mark":{"type":"rect","fill":"white","stroke":"#222","strokeWidth":1.2,"strokeDash":[2,2]},"encoding":{"x":{"datum":0.2},"x2":{"datum":3.1},"y":{"datum":0.1401},"y2":{"datum":0.1682}}},
  {"data":{"values":[{}]},"mark":{"type":"rule","stroke":"#222","strokeWidth":1.2,"strokeDash":[2,2]},"encoding":{"x":{"datum":0},"x2":{"datum":0.2},"y":{"datum":0.127},"y2":{"datum":0.1401}}},
  {"data":{"values":[{}]},"mark":{"type":"circle","color":"#000","size":30,"opacity":1},"encoding":{"x":{"datum":0},"y":{"datum":0.127}}},
  {"data":{"values":[{}]},"mark":{"type":"rule","stroke":"#333","strokeWidth":1.2},"encoding":{"x":{"datum":0.72},"x2":{"datum":2.57},"y":{"datum":0.1644}}},
  {"data":{"values":[{}]},"mark":{"type":"rule","stroke":"#333","strokeWidth":1.2},"encoding":{"x":{"datum":0.72},"x2":{"datum":1.67},"y":{"datum":0.1614}}},
  {"data":{"values":[{}]},"mark":{"type":"text","text":"*","fontSize":10,"font":"DejaVu Sans","baseline":"middle","color":"#333"},"encoding":{"x":{"datum":1.645},"y":{"datum":0.1644}}},
  {"data":{"values":[{}]},"mark":{"type":"text","text":"*","fontSize":10,"font":"DejaVu Sans","baseline":"middle","color":"#333"},"encoding":{"x":{"datum":1.195},"y":{"datum":0.1614}}},
  {"data":{"values":[{}]},"mark":{"type":"text","text":"*","fontSize":22,"font":"DejaVu Sans","baseline":"middle","dy":5,"color":"#111"},"encoding":{"x":{"datum":4.0},"y":{"datum":0.1306}}}
 ]},
 {"data":{"name":"bars"},"transform":[{"filter":"datum.r=='OCC'"}],"layer":[
  {"mark":{"type":"bar"},"encoding":{"x":{"field":"g","type":"nominal","scale":{"type":"band","domain":["HC","CHR-NP","CHR-P"],"paddingInner":0.2,"paddingOuter":1.34,"align":0.174},"axis":null},"y":{"field":"v","type":"quantitative","title":null},"y2":{"datum":0.1401},"color":{"field":"g","type":"nominal","legend":null}}},
  {"mark":{"type":"tick","color":"#111","thickness":2,"size":4},"encoding":{"x":{"field":"g","type":"nominal"},"y":{"field":"v","type":"quantitative","title":null}}}
 ]}
]}
]}
],
"config":{
 "view":{"stroke":null},
 "background":"white",
 "title":{"font":"DejaVu Sans","fontSize":13,"fontWeight":"normal","color":"#222","offset":3},
 "legend":{"orient":"none","legendX":405,"legendY":-51,"direction":"horizontal","symbolType":"stroke","symbolStrokeWidth":3,"symbolSize":230,"labelFontSize":20,"labelFont":"Liberation Sans","labelColor":"#111","columnPadding":16,"labelOffset":4},
 "axis":{"grid":false,"labelOverlap":false,"domainColor":"#444","tickColor":"#444","labelColor":"#333","labelFont":"DejaVu Sans","labelFontSize":12,"tickSize":4,"labelPadding":2,"domainWidth":1.2,"tickWidth":1.2,"titleFont":"DejaVu Sans","titleFontSize":11,"titleFontWeight":"normal","titleColor":"#222","titlePadding":6}
}
}
